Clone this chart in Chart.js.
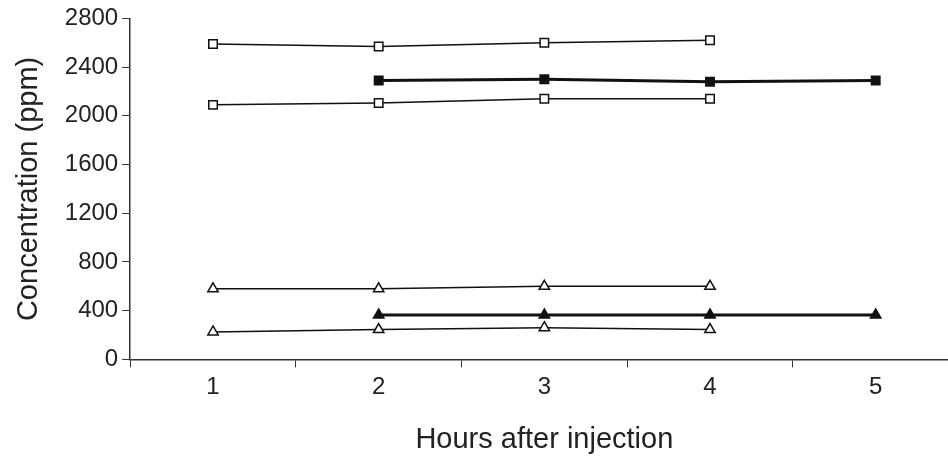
<!DOCTYPE html>
<html><head><script src="https://cdn.jsdelivr.net/npm/chart.js@4"></script>
<style>body{margin:0;background:#fff;overflow:hidden}#w{width:966px;height:457px}</style></head>
<body><div id="w"><canvas id="c"></canvas></div>
<script>
const categories=['1','2','3','4','5'];
const openSqHigh=[2590,2570,2600,2620,null];
const filledSq=[null,2290,2300,2280,2290];
const openSqLow=[2090,2105,2140,2140,null];
const openTriHigh=[580,580,600,600,null];
const filledTri=[null,365,365,365,365];
const openTriLow=[225,245,260,245,null];
const yTicks=[0,400,800,1200,1600,2000,2400,2800];
function ds(data,shape,filled,w){return {data,borderColor:'#111',borderWidth:w,pointStyle:shape,pointRadius:6,pointBorderWidth:1.5,pointBackgroundColor:filled?'#111':'#fff',pointBorderColor:'#111',spanGaps:false,tension:0};}
Chart.defaults.font.family='"Liberation Sans", Arial, sans-serif';
Chart.defaults.color='#222';
new Chart(document.getElementById('c'),{type:'line',data:{labels:categories,datasets:[
ds(openSqHigh,'rect',false,1.5),ds(filledSq,'rect',true,3),ds(openSqLow,'rect',false,1.5),
ds(openTriHigh,'triangle',false,1.5),ds(filledTri,'triangle',true,3),ds(openTriLow,'triangle',false,1.5)]},
options:{responsive:true,maintainAspectRatio:false,animation:false,layout:{padding:{top:4,right:0,bottom:0,left:12}},
plugins:{legend:{display:false},tooltip:{enabled:false}},
scales:{x:{offset:true,grid:{offset:true,display:true,drawOnChartArea:false,color:'#333',tickLength:8},border:{color:'#333',width:1.5},
ticks:{font:{size:24},color:'#222',padding:6},title:{display:true,text:'Hours after injection',font:{size:29},color:'#222',padding:{top:14,bottom:0}}},
y:{min:0,max:2800,afterBuildTicks:a=>{a.ticks=yTicks.map(v=>({value:v}));},grid:{drawOnChartArea:false,color:'#333',tickLength:8},border:{color:'#333',width:1.5},
ticks:{font:{size:24},color:'#222',padding:4,callback:v=>String(v)},title:{display:true,text:'Concentration (ppm)',font:{size:29},color:'#222',padding:{top:0,bottom:14}}}}}});
</script></body></html>
